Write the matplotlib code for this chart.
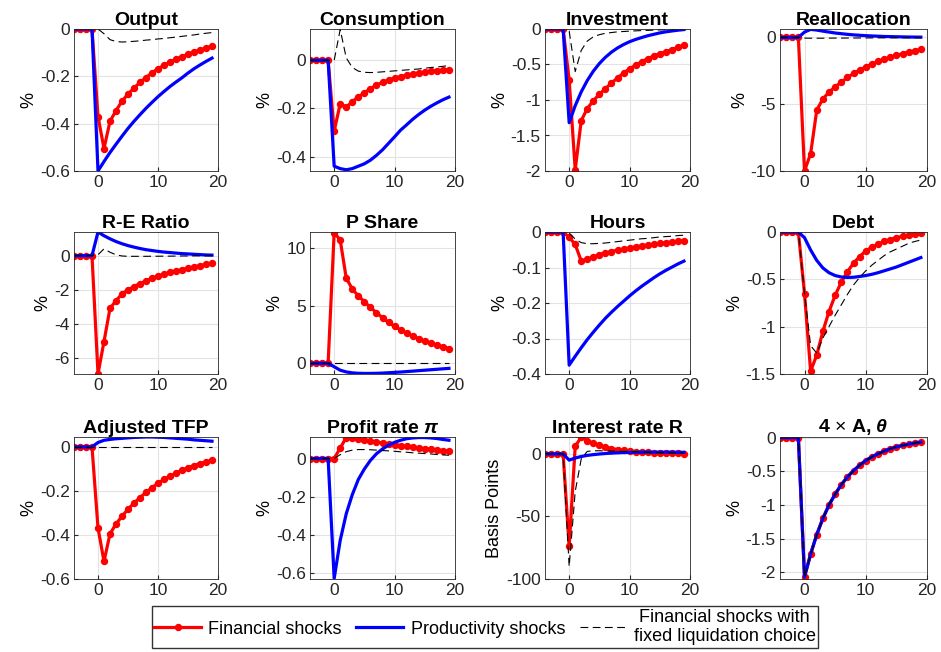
import matplotlib
matplotlib.use("Agg")
import matplotlib.pyplot as plt
import numpy as np

plt.rcParams['font.family'] = ['Liberation Sans', 'DejaVu Sans']
plt.rcParams['mathtext.fontset'] = 'custom'
plt.rcParams['mathtext.it'] = 'Liberation Sans:italic:bold'
plt.rcParams['mathtext.rm'] = 'Liberation Sans'

t = np.arange(-4, 20)
pre = [0, 0, 0, 0]

titles = ['Output', 'Consumption', 'Investment', 'Reallocation',
          'R-E Ratio', 'P Share', 'Hours', 'Debt',
          'Adjusted TFP', r'Profit rate $\pi$', 'Interest rate R', r'4 $\times$ A, $\theta$']
ylabels = ['%'] * 10 + ['Basis Points', '%']

# financial shocks (red)
fin = [
    [-0.37, -0.505, -0.39, -0.345, -0.305, -0.275, -0.25, -0.225, -0.205, -0.185,
     -0.168, -0.153, -0.14, -0.128, -0.117, -0.107, -0.097, -0.089, -0.081, -0.073],
    [-0.295, -0.18, -0.195, -0.172, -0.152, -0.135, -0.118, -0.103, -0.092, -0.082,
     -0.074, -0.068, -0.062, -0.057, -0.053, -0.049, -0.046, -0.043, -0.041, -0.039],
    [-0.72, -1.98, -1.29, -1.12, -1.01, -0.92, -0.84, -0.76, -0.69, -0.62,
     -0.56, -0.51, -0.46, -0.42, -0.38, -0.35, -0.32, -0.29, -0.26, -0.23],
    [-10.0, -8.7, -5.45, -4.6, -4.1, -3.7, -3.35, -3.0, -2.7, -2.45,
     -2.2, -2.0, -1.8, -1.65, -1.5, -1.35, -1.22, -1.1, -1.0, -0.9],
    [-6.95, -5.05, -3.1, -2.65, -2.25, -2.02, -1.82, -1.64, -1.48, -1.33,
     -1.2, -1.09, -0.99, -0.9, -0.82, -0.74, -0.66, -0.59, -0.52, -0.46],
    [11.35, 10.7, 7.4, 6.45, 5.85, 5.35, 4.85, 4.4, 3.95, 3.55,
     3.2, 2.9, 2.62, 2.36, 2.13, 1.92, 1.74, 1.57, 1.42, 1.28],
    [-0.015, -0.035, -0.082, -0.077, -0.07, -0.064, -0.059, -0.055, -0.051, -0.048,
     -0.045, -0.042, -0.039, -0.037, -0.035, -0.032, -0.03, -0.028, -0.026, -0.024],
    [-0.65, -1.47, -1.3, -1.05, -0.84, -0.67, -0.53, -0.42, -0.33, -0.26,
     -0.2, -0.16, -0.13, -0.1, -0.08, -0.06, -0.045, -0.035, -0.025, -0.015],
    [-0.368, -0.52, -0.395, -0.35, -0.315, -0.283, -0.255, -0.23, -0.207, -0.185,
     -0.165, -0.148, -0.133, -0.119, -0.106, -0.095, -0.085, -0.076, -0.068, -0.061],
    [0.0, 0.055, 0.11, 0.11, 0.103, 0.097, 0.092, 0.087, 0.082, 0.077,
     0.072, 0.068, 0.064, 0.06, 0.056, 0.052, 0.049, 0.046, 0.042, 0.039],
    [-74, 6, 13.5, 10.5, 8.5, 6.8, 5.4, 4.3, 3.5, 2.8,
     2.2, 1.8, 1.5, 1.2, 1.0, 0.8, 0.6, 0.5, 0.4, 0.3],
    [-2.07, -1.73, -1.44, -1.2, -1.0, -0.84, -0.7, -0.585, -0.49, -0.41,
     -0.34, -0.285, -0.24, -0.2, -0.165, -0.138, -0.115, -0.096, -0.08, -0.067],
]

# productivity shocks (blue)
prod = [
    [-0.6, -0.56, -0.522, -0.487, -0.453, -0.42, -0.39, -0.362, -0.335, -0.31,
     -0.286, -0.264, -0.243, -0.224, -0.206, -0.186, -0.168, -0.152, -0.137, -0.123],
    [-0.44, -0.45, -0.455, -0.45, -0.44, -0.43, -0.415, -0.395, -0.372, -0.345,
     -0.318, -0.29, -0.268, -0.245, -0.225, -0.207, -0.191, -0.177, -0.164, -0.153],
    [-1.32, -1.08, -0.885, -0.725, -0.594, -0.486, -0.398, -0.326, -0.267, -0.219,
     -0.179, -0.147, -0.12, -0.095, -0.075, -0.055, -0.04, -0.028, -0.017, -0.008],
    [0.4, 0.6, 0.55, 0.47, 0.4, 0.33, 0.28, 0.23, 0.19, 0.16,
     0.13, 0.11, 0.09, 0.07, 0.06, 0.05, 0.04, 0.03, 0.025, 0.02],
    [1.39, 1.17, 0.99, 0.83, 0.7, 0.59, 0.5, 0.42, 0.35, 0.3,
     0.25, 0.21, 0.18, 0.15, 0.12, 0.1, 0.08, 0.06, 0.04, 0.03],
    [-0.3, -0.6, -0.75, -0.83, -0.87, -0.88, -0.88, -0.87, -0.85, -0.82,
     -0.79, -0.76, -0.72, -0.68, -0.64, -0.6, -0.56, -0.52, -0.48, -0.44],
    [-0.375, -0.35, -0.326, -0.303, -0.282, -0.262, -0.243, -0.226, -0.21, -0.195,
     -0.18, -0.166, -0.153, -0.141, -0.129, -0.118, -0.108, -0.099, -0.09, -0.082],
    [-0.06, -0.19, -0.3, -0.38, -0.43, -0.46, -0.475, -0.48, -0.478, -0.47,
     -0.46, -0.447, -0.43, -0.41, -0.39, -0.37, -0.345, -0.32, -0.295, -0.27],
    [0.02, 0.03, 0.034, 0.037, 0.039, 0.041, 0.043, 0.044, 0.045, 0.045,
     0.044, 0.043, 0.041, 0.039, 0.037, 0.035, 0.032, 0.03, 0.028, 0.026],
    [-0.63, -0.43, -0.29, -0.19, -0.11, -0.055, -0.01, 0.025, 0.05, 0.07,
     0.085, 0.096, 0.104, 0.108, 0.11, 0.11, 0.108, 0.105, 0.1, 0.096],
    [-5, -3.3, -2.1, -1.2, -0.6, -0.1, 0.3, 0.6, 0.9, 1.1,
     1.2, 1.3, 1.35, 1.4, 1.4, 1.4, 1.4, 1.35, 1.3, 1.3],
    [-2.07, -1.73, -1.44, -1.2, -1.0, -0.84, -0.7, -0.585, -0.49, -0.41,
     -0.34, -0.285, -0.24, -0.2, -0.165, -0.138, -0.115, -0.096, -0.08, -0.067],
]

# financial shocks, fixed liquidation choice (black dashed)
fixed = [
    [0.0, -0.02, -0.045, -0.053, -0.055, -0.054, -0.052, -0.05, -0.047, -0.045,
     -0.042, -0.04, -0.037, -0.034, -0.031, -0.028, -0.025, -0.021, -0.018, -0.015],
    [0.0, 0.128, 0.01, -0.03, -0.045, -0.05, -0.051, -0.05, -0.048, -0.046,
     -0.044, -0.042, -0.04, -0.038, -0.036, -0.033, -0.03, -0.028, -0.025, -0.022],
    [-0.03, -0.6, -0.3, -0.17, -0.11, -0.08, -0.06, -0.05, -0.04, -0.035,
     -0.03, -0.026, -0.022, -0.019, -0.016, -0.013, -0.011, -0.009, -0.007, -0.005],
    [-0.05, -0.06, -0.06, -0.06, -0.055, -0.05, -0.05, -0.045, -0.045, -0.04,
     -0.04, -0.035, -0.035, -0.03, -0.03, -0.025, -0.025, -0.02, -0.02, -0.02],
    [0.05, 0.4, 0.2, 0.05, -0.02, -0.04, -0.04, -0.04, -0.04, -0.035,
     -0.035, -0.03, -0.03, -0.025, -0.02, -0.02, -0.015, -0.01, -0.01, -0.005],
    [0.0] * 20,
    [-0.003, -0.02, -0.03, -0.033, -0.033, -0.032, -0.031, -0.029, -0.027, -0.025,
     -0.023, -0.021, -0.019, -0.018, -0.016, -0.014, -0.013, -0.012, -0.01, -0.009],
    [-0.65, -1.2, -1.28, -1.12, -1.0, -0.88, -0.77, -0.66, -0.56, -0.48,
     -0.41, -0.35, -0.3, -0.25, -0.21, -0.18, -0.15, -0.12, -0.1, -0.085],
    [0.0] * 20,
    [0.0, 0.02, 0.036, 0.044, 0.047, 0.047, 0.046, 0.044, 0.042, 0.04,
     0.038, 0.035, 0.033, 0.03, 0.028, 0.026, 0.024, 0.021, 0.019, 0.017],
    [-90, -30, -4, 2, 2.5, 2.5, 2.4, 2.3, 2.2, 2.0,
     1.9, 1.7, 1.5, 1.3, 1.2, 1.0, 0.9, 0.8, 0.7, 0.6],
    [-2.07, -1.73, -1.44, -1.2, -1.0, -0.84, -0.7, -0.585, -0.49, -0.41,
     -0.34, -0.285, -0.24, -0.2, -0.165, -0.138, -0.115, -0.096, -0.08, -0.067],
]

ylims = [(-0.6, 0), (-0.46, 0.13), (-2, 0), (-10, 0.63),
         (-6.96, 1.39), (-0.93, 11.4), (-0.4, 0), (-1.5, 0),
         (-0.6, 0.045), (-0.633, 0.113), (-100, 13.5), (-2.1, 0.01)]
yticks = [[-0.6, -0.4, -0.2, 0], [-0.4, -0.2, 0], [-2, -1.5, -1, -0.5, 0], [-10, -5, 0],
          [-6, -4, -2, 0], [0, 5, 10], [-0.4, -0.3, -0.2, -0.1, 0], [-1.5, -1, -0.5, 0],
          [-0.6, -0.4, -0.2, 0], [-0.6, -0.4, -0.2, 0], [-100, -50, 0], [-2, -1.5, -1, -0.5, 0]]

W, H = 941, 652
cols = [(74, 218), (310, 455), (545, 690), (780, 927)]
rows = [(29, 171), (232, 374), (437, 579)]

fig = plt.figure(figsize=(W / 100, H / 100), dpi=100)

for i in range(12):
    x0, x1 = cols[i % 4]
    y0, y1 = rows[i // 4]
    ax = fig.add_axes([x0 / W, 1 - y1 / H, (x1 - x0) / W, (y1 - y0) / H])
    l1, = ax.plot(t, pre + fin[i], color='red', lw=2.3, marker='o', ms=4.3,
                  label='Financial shocks')
    l2, = ax.plot(t, pre + prod[i], color='blue', lw=2.3, label='Productivity shocks')
    l3, = ax.plot(t, pre + fixed[i], color='black', lw=0.8, ls=(0, (7, 4)),
                  label='Financial shocks with\nfixed liquidation choice')
    ax.set_xlim(-4, 20)
    ax.set_ylim(*ylims[i])
    ax.set_xticks([0, 10, 20])
    ax.set_yticks(yticks[i])
    ax.set_yticklabels(['%g' % v for v in yticks[i]])
    ax.grid(True, color='#e3e3e3', lw=0.8)
    ax.set_axisbelow(True)
    ax.tick_params(direction='in', labelsize=12.5, length=3, color='#262626',
                   labelcolor='#262626', pad=3)
    for s in ax.spines.values():
        s.set_color('#262626')
        s.set_linewidth(0.6)
    ax.set_title(titles[i], fontsize=14, fontweight='bold', pad=3)
    ax.set_ylabel(ylabels[i], fontsize=13, labelpad=2)

leg = fig.legend([l1, l2, l3], [l1.get_label(), l2.get_label(), l3.get_label()],
                 loc='center', bbox_to_anchor=(485 / W, 1 - 627 / H), ncol=3,
                 fontsize=13, frameon=True, fancybox=False, edgecolor='black',
                 handlelength=2.6, columnspacing=0.8, handletextpad=0.4,
                 borderpad=0.15, labelspacing=0.1)
for txt in leg.get_texts():
    txt.set_multialignment('center')

fig.savefig('out.png', dpi=100)
